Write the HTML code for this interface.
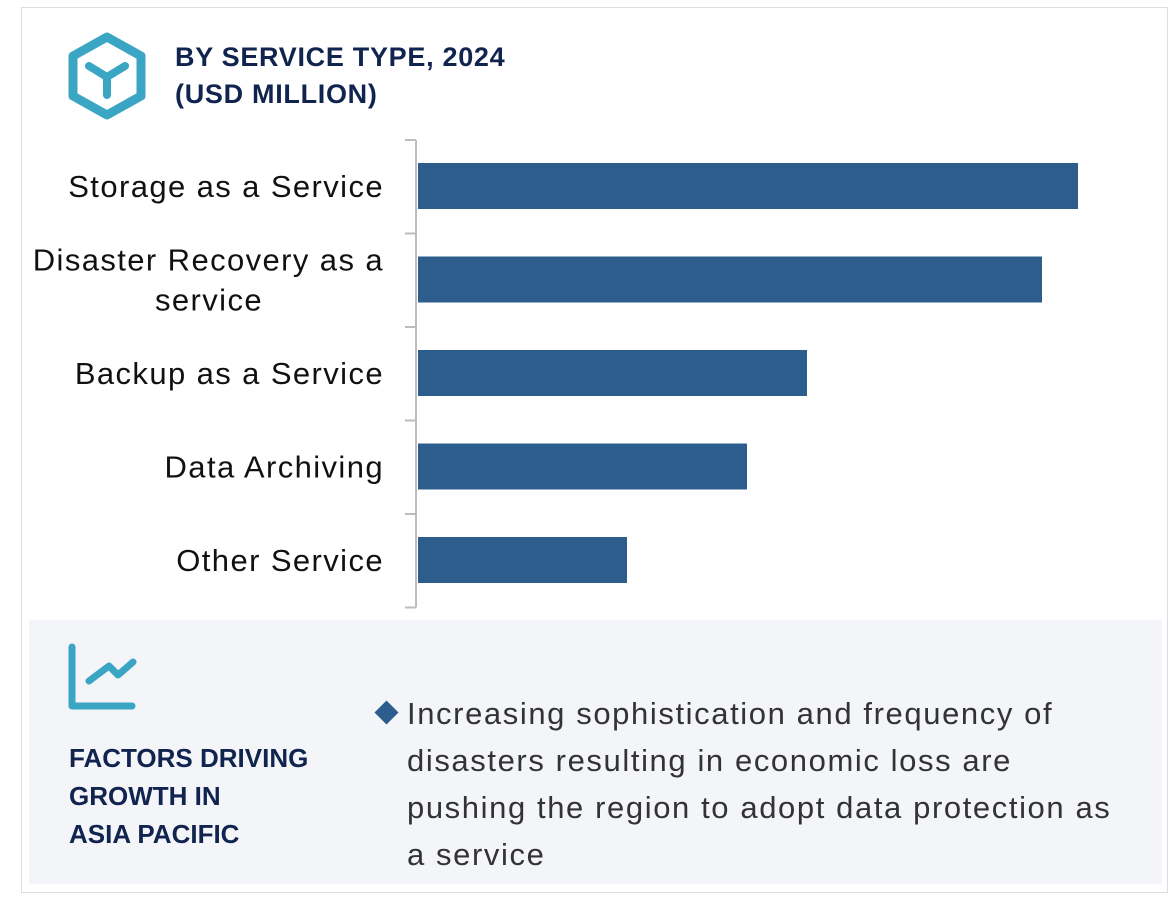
<!DOCTYPE html>
<html><head><meta charset="utf-8"><style>
body{margin:0;width:1170px;height:902px;background:#fff;position:relative;overflow:hidden;font-family:"Liberation Sans",sans-serif}
.abs{position:absolute}
</style></head><body>
<div class="abs" style="left:21px;top:7px;width:1147px;height:886px;border:1px solid #dcdde3;box-sizing:border-box"></div>
<svg class="abs" style="left:66px;top:32px" width="84" height="88" viewBox="0 0 84 88">
<polygon points="41,5 75,24 75,64 41,83 7,64 7,24" fill="none" stroke="#3aa6c4" stroke-width="9" stroke-linejoin="round"/>
<path d="M23,34 L41,45 L59,34 M41,45 L41,63" fill="none" stroke="#3aa6c4" stroke-width="8" stroke-linecap="round" stroke-linejoin="round"/>
</svg>
<div class="abs" style="left:175px;top:39px;font-weight:bold;font-size:27px;line-height:37px;letter-spacing:0.7px;color:#10244f">BY SERVICE TYPE, 2024<br>(USD MILLION)</div>
<svg class="abs" id="chart" style="left:0;top:0" width="1170" height="620"></svg>
<div class="abs" style="left:29px;top:620px;width:1133px;height:264px;background:#f3f5f9"></div>
<svg class="abs" style="left:66px;top:643px" width="72" height="70">
<path d="M6,4 L6,63 L66,63" fill="none" stroke="#3aa6c4" stroke-width="7" stroke-linecap="round" stroke-linejoin="round"/>
<path d="M23,38 L43,23 L52,32 L67,19" fill="none" stroke="#3aa6c4" stroke-width="7" stroke-linecap="round" stroke-linejoin="round"/>
</svg>
<div class="abs" style="left:69px;top:739px;font-weight:bold;font-size:26px;line-height:38px;color:#10244f">FACTORS DRIVING<br>GROWTH IN<br>ASIA PACIFIC</div>
<div class="abs" style="left:378px;top:704px;width:17px;height:17px;background:#2d5d8c;transform:rotate(45deg)"></div>
<div class="abs" style="left:407px;top:690px;width:745px;font-size:31px;line-height:47px;letter-spacing:1.6px;color:#333;white-space:nowrap">Increasing sophistication and frequency of<br>disasters resulting in economic loss are<br>pushing the region to adopt data protection as<br>a service</div>
<script>
const categories=["Storage as a Service","Disaster Recovery as a service","Backup as a Service","Data Archiving","Other Service"];
const values=[660,624,389,329,209];
const svg=document.getElementById('chart');
const NS='http://www.w3.org/2000/svg';
const x0=418,xScale=v=>x0+v*1.0;
const top0=140,band=93.5;
const yBand=i=>top0+i*band;
function mk(t,a){const e=document.createElementNS(NS,t);for(const k in a)e.setAttribute(k,a[k]);svg.appendChild(e);return e;}
const ax=mk('line',{x1:416,y1:top0,x2:416,y2:top0+band*categories.length,stroke:'#bdbdbd','stroke-width':2});


for(let i=0;i<=categories.length;i++){
 const t=mk('line',{x1:405,y1:yBand(i),x2:416,y2:yBand(i),stroke:'#bdbdbd','stroke-width':2});
 
 
}
categories.forEach((c,i)=>{
 const b=mk('rect',{x:x0,y:yBand(i)+23,width:xScale(values[i])-x0,height:46,fill:'#2d5d8c'});
 
 
 const cy=yBand(i)+band/2;
 let lines=[c];
 if(c.length>22){lines=["Disaster Recovery as a","service"];}
 lines.forEach((ln,j)=>{
  const tx=mk('text',{x:384,y:cy+10+(j-(lines.length-1)/2)*40,'text-anchor':'end','font-size':31,'letter-spacing':'1.4',fill:'#111','font-family':'Liberation Sans, sans-serif'});
  tx.textContent=ln;
  if(lines.length>1&&j===1){tx.setAttribute('x',263);tx.setAttribute('text-anchor','end');}
  
  
 });
});
</script>
</body></html>
